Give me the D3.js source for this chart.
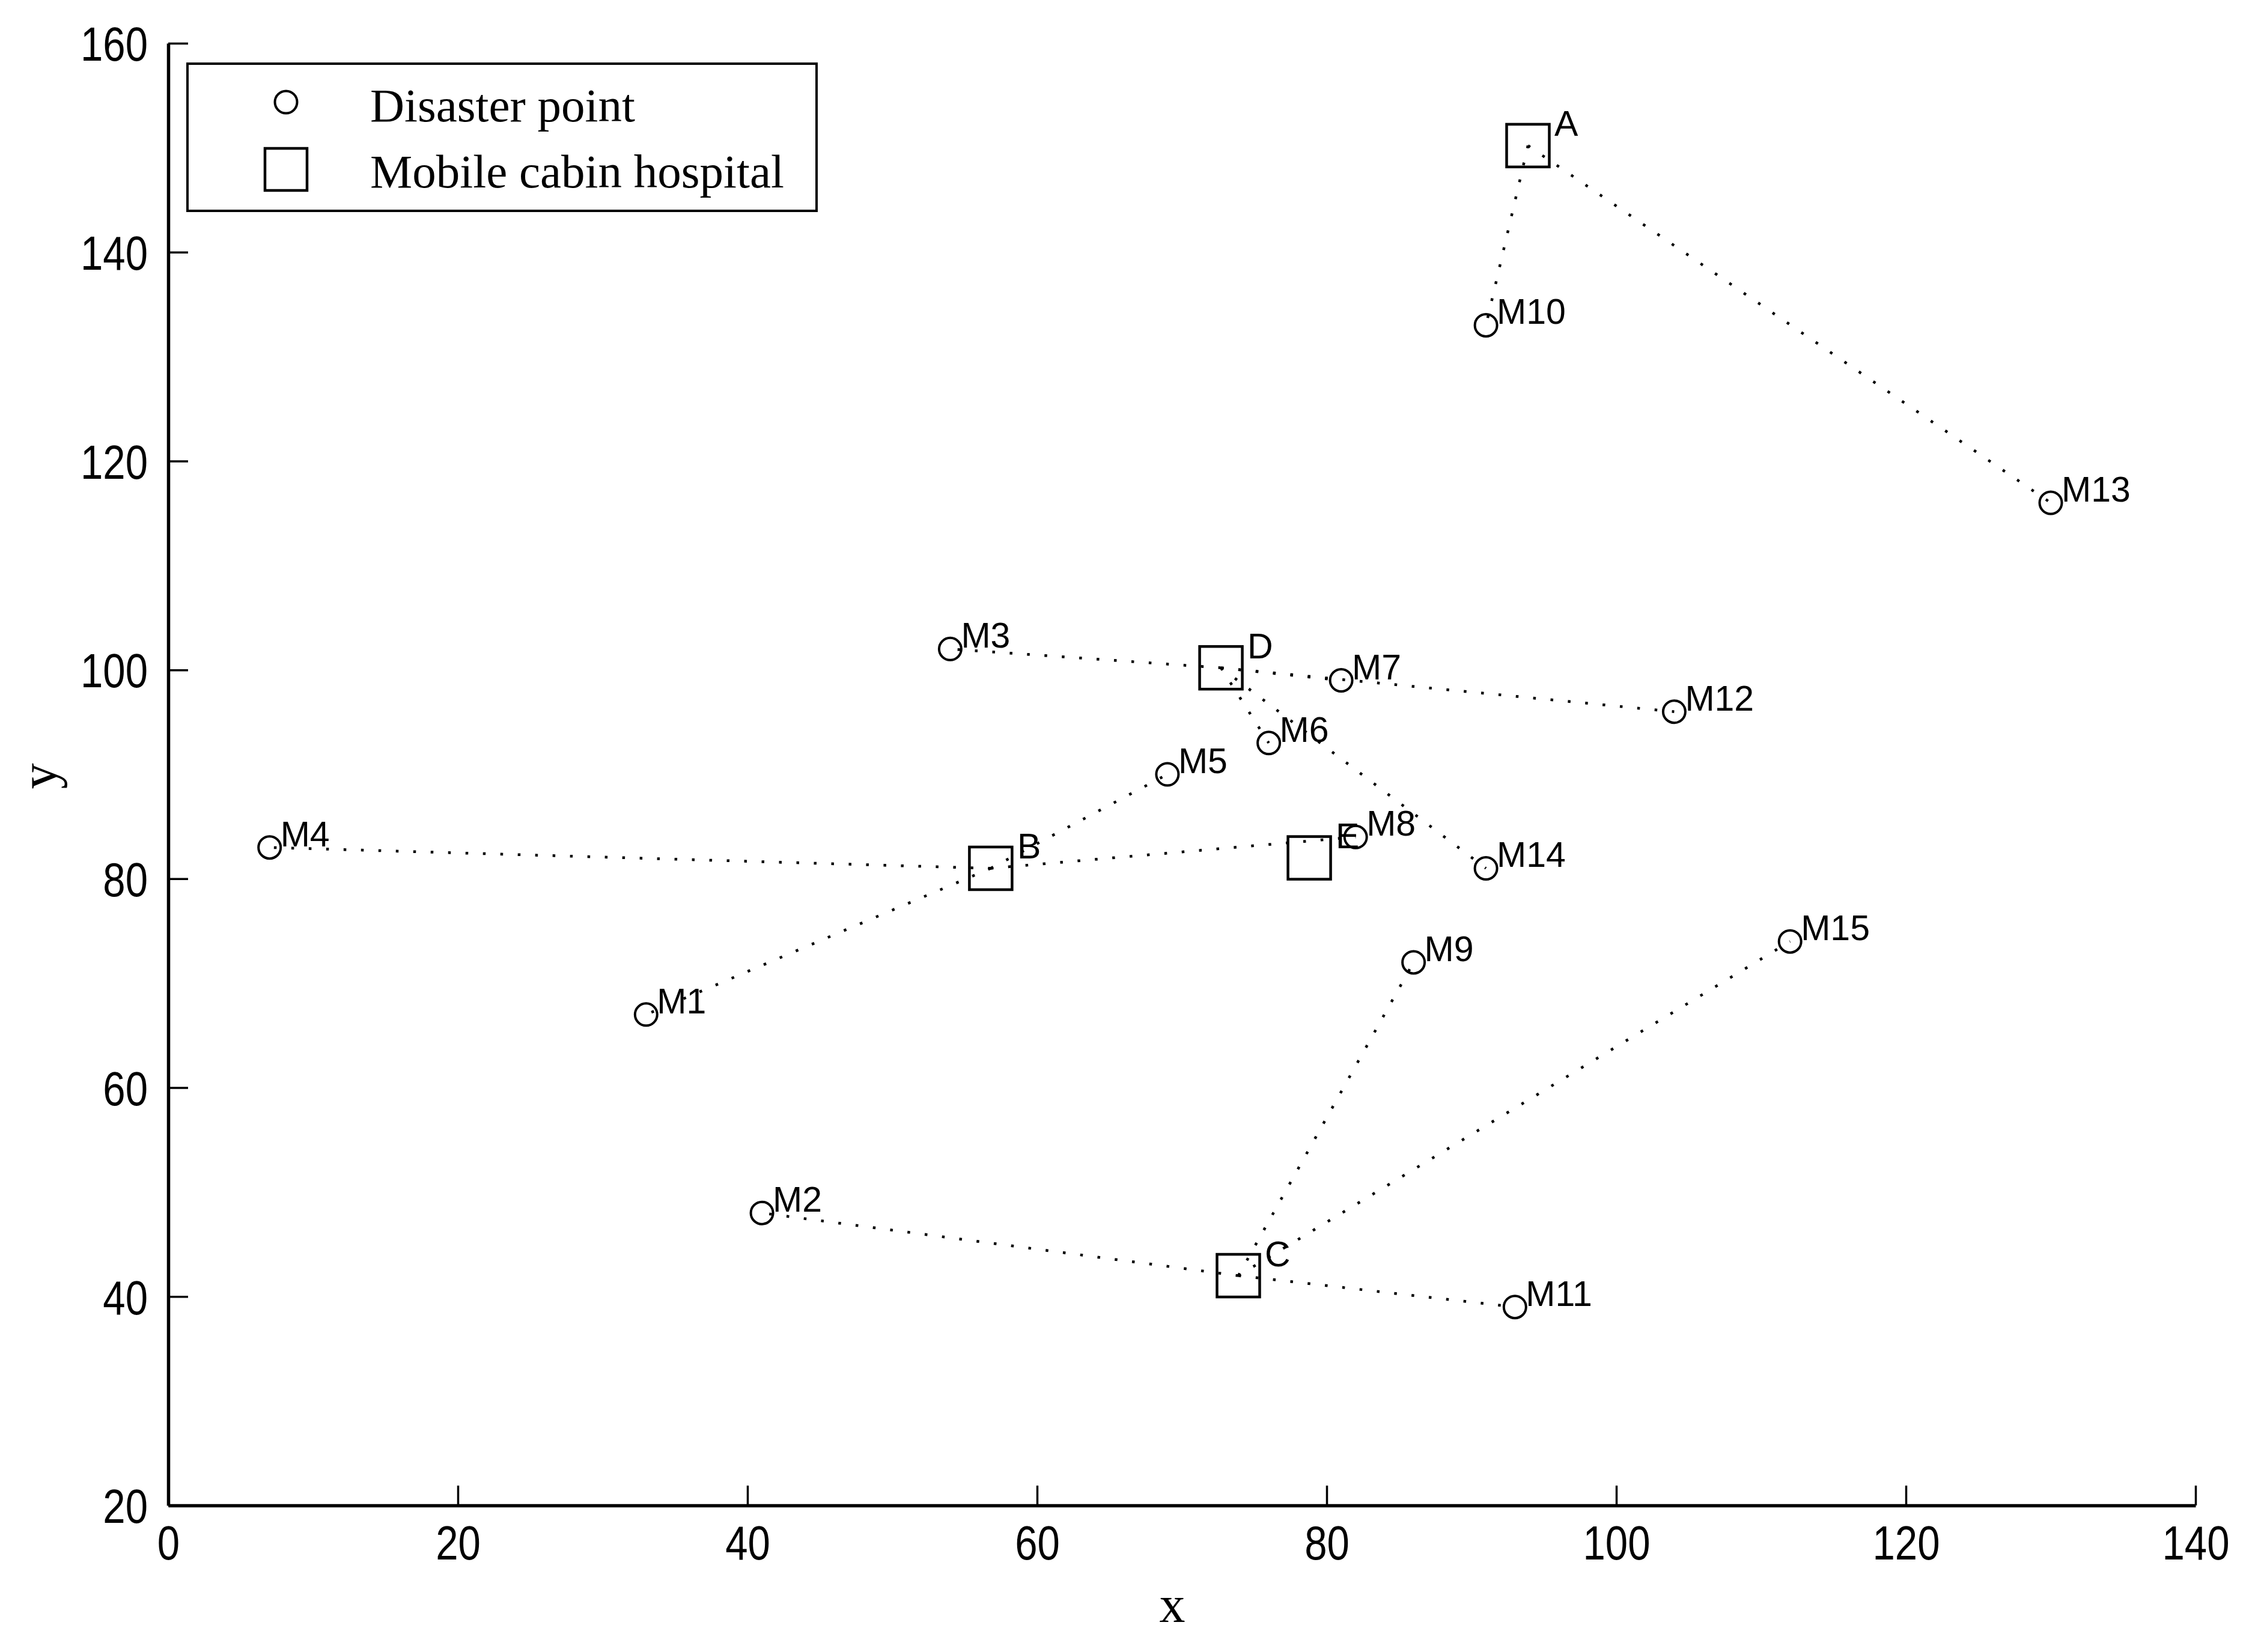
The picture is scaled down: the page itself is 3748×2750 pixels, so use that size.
<!DOCTYPE html>
<html>
<head>
<meta charset="utf-8">
<script src="https://cdn.jsdelivr.net/npm/d3@7"></script>
<style>
  html, body { margin: 0; padding: 0; background: #fff; }
  svg { display: block; }
</style>
</head>
<body>
<svg id="chart" width="3748" height="2750"></svg>
<script>
// ---- data ----
const pointNames = ["M1","M2","M3","M4","M5","M6","M7","M8","M9","M10","M11","M12","M13","M14","M15"];
const pointX = [33, 41, 54, 7, 69, 76, 81, 82, 86, 91, 93, 104, 130, 91, 112];
const pointY = [67, 48, 102, 83, 90, 93, 99, 84, 72, 133, 39, 96, 116, 81, 74];
const hospitalNames = ["A", "B", "C", "D", "E"];
const hospitalX = [93.9, 56.8, 73.9, 72.7, 78.8];
const hospitalY = [150.2, 81, 42, 100.2, 82];
const assignment = ["B","C","D","B","B","D","D","B","C","A","C","D","A","D","C"];
const xTicks = [0, 20, 40, 60, 80, 100, 120, 140];
const yTicks = [20, 40, 60, 80, 100, 120, 140, 160];
const legendLabels = ["Disaster point", "Mobile cabin hospital"];
const xLabel = "x", yLabel = "y";

// ---- layout ----
const svg = d3.select("#chart");
svg.append("rect").attr("width", 3748).attr("height", 2750).attr("fill", "#fff");
const mLeft = 280, mRight = 3654, mTop = 72, mBottom = 2506;
const x = d3.scaleLinear().domain([0, 140]).range([mLeft, mRight]);
const y = d3.scaleLinear().domain([20, 160]).range([mBottom, mTop]);

const sans = "'Liberation Sans', Arial, Helvetica, sans-serif";
const serif = "'Liberation Serif', 'Times New Roman', Times, serif";
const narrow = 0.84;

// axes
const gx = svg.append("g").attr("transform", `translate(0,${mBottom})`)
  .call(d3.axisBottom(x).tickValues(xTicks).tickFormat(d3.format("d")).tickSize(-33).tickSizeOuter(0).tickPadding(33));
const gy = svg.append("g").attr("transform", `translate(${mLeft},0)`)
  .call(d3.axisLeft(y).tickValues(yTicks).tickFormat(d3.format("d")).tickSize(-33).tickSizeOuter(0).tickPadding(34));
[gx, gy].forEach(g => {
  g.select(".domain").attr("stroke", "#000").attr("stroke-width", 5.5);
  g.selectAll(".tick line").attr("stroke", "#000").attr("stroke-width", 3.5);
  g.selectAll(".tick text").attr("fill", "#000").attr("font-family", sans).attr("font-size", 80)
    .attr("transform", `scale(${narrow},1)`);
});
gy.selectAll(".tick text").attr("dy", "0.36em").attr("x", -34 / narrow);

// axis titles
svg.append("text").attr("x", 1951).attr("y", 2700).attr("text-anchor", "middle")
  .attr("font-family", serif).attr("font-size", 86).text(xLabel);
svg.append("text").attr("transform", "translate(93,1292) rotate(-90)").attr("text-anchor", "middle")
  .attr("font-family", serif).attr("font-size", 86).text(yLabel);

// connection lines
const hIndex = Object.fromEntries(hospitalNames.map((n, i) => [n, i]));
svg.append("g").selectAll("line").data(pointNames).join("line")
  .attr("x1", (d, i) => x(hospitalX[hIndex[assignment[i]]]))
  .attr("y1", (d, i) => y(hospitalY[hIndex[assignment[i]]]))
  .attr("x2", (d, i) => x(pointX[i]))
  .attr("y2", (d, i) => y(pointY[i]))
  .attr("stroke", "#000").attr("stroke-width", 4.5).attr("stroke-dasharray", "4.5 24.5");

// disaster points
const sq = 71;
svg.append("g").selectAll("circle").data(pointNames).join("circle")
  .attr("cx", (d, i) => x(pointX[i])).attr("cy", (d, i) => y(pointY[i])).attr("r", 18.5)
  .attr("fill", "none").attr("stroke", "#000").attr("stroke-width", 4);
svg.append("g").selectAll("text").data(pointNames).join("text")
  .attr("x", (d, i) => x(pointX[i]) + 18).attr("y", (d, i) => y(pointY[i]) - 2)
  .attr("font-family", sans).attr("font-size", 59).text(d => d);

// hospitals
svg.append("g").selectAll("rect").data(hospitalNames).join("rect")
  .attr("x", (d, i) => x(hospitalX[i]) - sq / 2).attr("y", (d, i) => y(hospitalY[i]) - sq / 2)
  .attr("width", sq).attr("height", sq)
  .attr("fill", "none").attr("stroke", "#000").attr("stroke-width", 4.5);
svg.append("g").selectAll("text").data(hospitalNames).join("text")
  .attr("x", (d, i) => x(hospitalX[i]) + 44).attr("y", (d, i) => y(hospitalY[i]) - 16)
  .attr("font-family", sans).attr("font-size", 59).text(d => d);

// legend
const lg = svg.append("g");
lg.append("rect").attr("x", 312).attr("y", 106).attr("width", 1047).attr("height", 245)
  .attr("fill", "#fff").attr("stroke", "#000").attr("stroke-width", 4);
lg.append("circle").attr("cx", 476).attr("cy", 170).attr("r", 18.5)
  .attr("fill", "none").attr("stroke", "#000").attr("stroke-width", 4);
lg.append("rect").attr("x", 476 - 35).attr("y", 282 - 35).attr("width", 70).attr("height", 70)
  .attr("fill", "none").attr("stroke", "#000").attr("stroke-width", 4.5);
lg.selectAll("text.leg").data(legendLabels).join("text").attr("class", "leg")
  .attr("x", 616).attr("y", (d, i) => [202, 312][i])
  .attr("font-family", serif).attr("font-size", 79).text(d => d);
</script>
</body>
</html>
